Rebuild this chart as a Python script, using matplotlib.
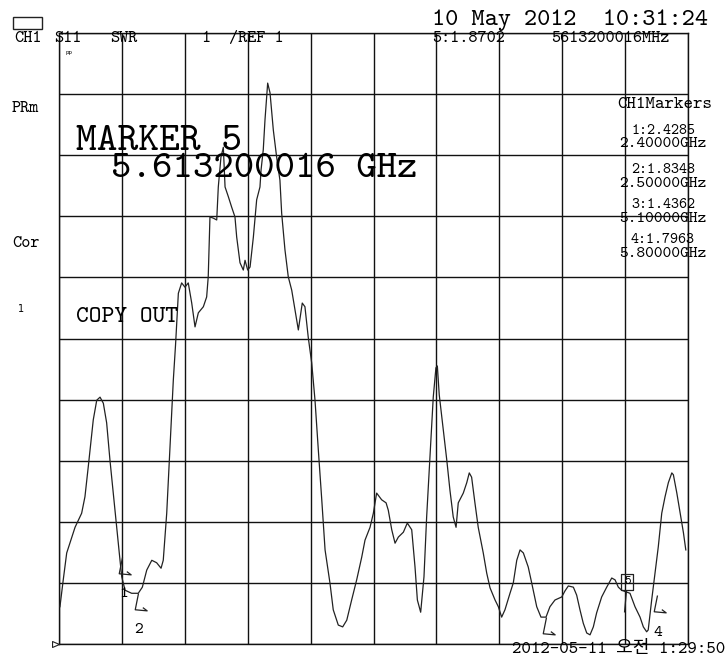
import numpy as np
import matplotlib
matplotlib.use("Agg")
import matplotlib.pyplot as plt
from matplotlib.path import Path
from matplotlib.patches import Rectangle

# ---- S11 SWR sweep, 2-6 GHz ----
freq_ghz = [2.006, 2.027, 2.049, 2.102, 2.144, 2.165, 2.186, 2.218, 2.240, 2.261,
            2.282, 2.303, 2.324, 2.345, 2.367, 2.388, 2.399, 2.420, 2.462, 2.504,
            2.530, 2.558, 2.590, 2.621, 2.649, 2.663, 2.685, 2.706, 2.727, 2.741,
            2.759, 2.780, 2.801, 2.822, 2.844, 2.865, 2.886, 2.918, 2.939, 2.949,
            2.960, 2.981, 3.003, 3.013, 3.030, 3.045, 3.056, 3.077, 3.098, 3.119,
            3.130, 3.151, 3.172, 3.183, 3.200, 3.215, 3.236, 3.257, 3.278, 3.285,
            3.299, 3.310, 3.327, 3.342, 3.363, 3.384, 3.405, 3.416, 3.437, 3.458,
            3.480, 3.501, 3.522, 3.547, 3.564, 3.585, 3.607, 3.628, 3.649, 3.671,
            3.692, 3.723, 3.744, 3.776, 3.804, 3.830, 3.861, 3.893, 3.925, 3.946,
            3.978, 3.999, 4.020, 4.052, 4.080, 4.094, 4.116, 4.137, 4.158, 4.190,
            4.215, 4.243, 4.264, 4.279, 4.300, 4.321, 4.338, 4.359, 4.380, 4.397,
            4.406, 4.418, 4.444, 4.466, 4.486, 4.507, 4.525, 4.539, 4.571, 4.593,
            4.609, 4.624, 4.645, 4.666, 4.698, 4.720, 4.741, 4.773, 4.794, 4.815,
            4.836, 4.868, 4.889, 4.911, 4.932, 4.953, 4.984, 5.006, 5.038, 5.065,
            5.097, 5.122, 5.154, 5.197, 5.218, 5.239, 5.271, 5.292, 5.313, 5.334,
            5.356, 5.377, 5.398, 5.419, 5.451, 5.483, 5.515, 5.536, 5.557, 5.578,
            5.631, 5.663, 5.695, 5.716, 5.737, 5.747, 5.769, 5.790, 5.811, 5.833,
            5.854, 5.875, 5.897, 5.907, 5.929, 5.950, 5.971, 5.986]
swr = [1.61, 2.05, 2.49, 2.91, 3.14, 3.41, 3.90, 4.67, 4.99, 5.04,
       4.94, 4.62, 4.01, 3.47, 2.91, 2.37, 2.10, 1.88, 1.83, 1.83,
       1.93, 2.21, 2.37, 2.33, 2.24, 2.37, 3.14, 4.22, 5.32, 5.89,
       6.74, 6.91, 6.84, 6.91, 6.58, 6.19, 6.42, 6.52, 6.68, 7.01,
       7.99, 7.97, 7.94, 8.48, 8.97, 9.13, 8.48, 8.32, 8.15, 7.99,
       7.66, 7.24, 7.12, 7.28, 7.12, 7.17, 7.66, 8.27, 8.48, 8.76,
       9.09, 9.58, 10.18, 10.02, 9.41, 8.97, 8.59, 8.05, 7.45, 7.01,
       6.79, 6.47, 6.14, 6.58, 6.52, 6.02, 5.60, 4.99, 4.18, 3.36,
       2.54, 2.00, 1.56, 1.31, 1.28, 1.39, 1.72, 2.05, 2.42, 2.70,
       2.91, 3.14, 3.47, 3.36, 3.31, 3.19, 2.87, 2.65, 2.75, 2.83,
       2.98, 2.87, 2.26, 1.72, 1.52, 2.10, 3.08, 4.06, 5.04, 5.52,
       5.55, 5.08, 4.50, 4.01, 3.52, 3.08, 2.91, 3.31, 3.47, 3.64,
       3.80, 3.73, 3.31, 2.91, 2.49, 2.16, 1.92, 1.72, 1.61, 1.44,
       1.56, 1.83, 2.00, 2.37, 2.54, 2.49, 2.26, 2.00, 1.61, 1.44,
       1.44, 1.61, 1.72, 1.77, 1.87, 1.95, 1.93, 1.80, 1.56, 1.34,
       1.18, 1.15, 1.28, 1.51, 1.77, 1.93, 2.08, 2.05, 1.93, 1.88,
       1.83, 1.61, 1.44, 1.28, 1.20, 1.23, 1.72, 2.16, 2.59, 3.14,
       3.41, 3.64, 3.80, 3.77, 3.47, 3.14, 2.82, 2.54]

# ---- markers ----
marker_ids = [1, 2, 3, 4]
marker_freq_ghz = [2.40, 2.50, 5.10, 5.80]
marker_readout = ["2.4285", "1.8348", "1.4362", "1.7963"]
marker_freq_labels = ["2.40000GHz", "2.50000GHz", "5.10000GHz", "5.80000GHz"]
active_marker_id = 5
active_marker_freq_ghz = 5.613200016
active_marker_readout = "1.8702"

# ---- scale settings ----
start_ghz, stop_ghz = 2.0, 6.0
ref_swr, swr_per_div, n_div = 1, 1, 10

W, H = 728, 657
MONO = "cmtt10"
plt.rcParams["axes.unicode_minus"] = False

fig = plt.figure(figsize=(W / 100, H / 100), dpi=100)
fig.patch.set_facecolor("white")


def fp(x, y):
    """pixel position (from top-left) -> figure fraction"""
    return x / W, 1 - y / H


def label(x, y, s, size, **kw):
    kw.setdefault("family", MONO)
    fig.text(*fp(x, y), s, fontsize=size, va="baseline", color="black", **kw)


ax = fig.add_axes([59 / W, 13 / H, 629 / W, 611 / H])
ax.set_xlim(start_ghz, stop_ghz)
ax.set_ylim(ref_swr, ref_swr + n_div * swr_per_div)
ax.set_xticks(np.linspace(start_ghz, stop_ghz, n_div + 1))
ax.set_yticks(np.arange(ref_swr, ref_swr + n_div * swr_per_div + 1, swr_per_div))
ax.tick_params(length=0, labelbottom=False, labelleft=False)
ax.grid(True, color="#111111", lw=1.0)
for sp in ax.spines.values():
    sp.set_color("#111111")
    sp.set_linewidth(1.0)

# measured trace
ax.plot(freq_ghz, swr, color="#222222", lw=0.9, zorder=3)

# marker glyph: small slanted flag hanging from the marked point
flag = Path([(0, 0), (-3, -15), (8, -16), (4, -13)],
            [Path.MOVETO, Path.LINETO, Path.LINETO, Path.LINETO])
marker_vals = [float(v) for v in marker_readout]
for mid, mf, mv in zip(marker_ids, marker_freq_ghz, marker_vals):
    ax.plot([mf], [mv], marker=flag, markersize=25, color="#222222",
            mew=0.9, fillstyle="none", linestyle="none", zorder=4,
            clip_on=False)
    if mid != 3:
        ax.annotate(str(mid), (mf, mv), xytext=(1, -27), textcoords="offset points",
                    ha="center", va="center", fontsize=12, family=MONO,
                    annotation_clip=False)

# active marker: boxed number with a drop line
box = Path([(-6, 1), (6, 1), (6, 17), (-6, 17), (-6, 1), (-1, 1), (-3, -21)],
           [Path.MOVETO, Path.LINETO, Path.LINETO, Path.LINETO, Path.LINETO,
            Path.MOVETO, Path.LINETO])
av = float(active_marker_readout)
ax.plot([active_marker_freq_ghz], [av], marker=box, markersize=30.2,
        color="#222222", mew=0.9, fillstyle="none", linestyle="none", zorder=4)
ax.annotate(str(active_marker_id), (active_marker_freq_ghz, av), xytext=(0, 6.5),
            textcoords="offset points", ha="center", va="center", fontsize=9,
            family=MONO)

# reference level pointer on the left edge
ref_tri = Path([(0, 0), (-7, 3), (-7, -3), (0, 0)],
               [Path.MOVETO, Path.LINETO, Path.LINETO, Path.CLOSEPOLY])
ax.plot([start_ghz], [ref_swr], marker=ref_tri, markersize=10, color="#222222",
        mew=0.8, mfc="white", linestyle="none", clip_on=False, zorder=5)

# ---- annotation text ----
fig.patches.append(Rectangle(fp(12.7, 29.3), 29.3 / W, 12.6 / H,
                             transform=fig.transFigure, fill=False,
                             edgecolor="#222222", lw=1.0))
label(432, 25, "10 May 2012  10:31:24", 18)
label(14, 42, "CH1", 12.5)
label(54, 42, "S11", 12.5)
label(110, 42, "SWR", 12.5)
label(201, 42, str(swr_per_div), 12.5)
label(229, 42, f"/REF {ref_swr}", 12.5)
label(432, 42, f"{active_marker_id}:{active_marker_readout}", 12.5)
label(551, 42, f"{active_marker_freq_ghz * 1e3:.6f}".replace(".", "") + "MHz", 12.5)
fig.text(*fp(66, 54), "pp", fontsize=4, color="black", va="baseline")

label(12, 112, "PRm", 12.5)
label(12, 247, "Cor", 12.5)
fig.text(*fp(18, 312), "1", fontsize=7, color="black", va="baseline")

label(76, 150, f"MARKER {active_marker_id}", 28.5)
label(111, 177, f"{active_marker_freq_ghz:.9f} GHz", 28)
label(76, 322, "COPY OUT", 17.5)

label(617, 108, "CH1Markers", 13)
readout_baselines = [(134, 147), (173, 187), (208, 222), (243, 257)]
for mid, val, fl, (b1, b2) in zip(marker_ids, marker_readout, marker_freq_labels,
                                  readout_baselines):
    label(663, b1, f"{mid}:{val}", 11, ha="center")
    label(663, b2, fl, 12, ha="center")

label(512, 653, "2012-05-11 오전 1:29:50", 13, family=[MONO, "Noto Sans CJK KR"])

fig.savefig("out.png", dpi=100, facecolor="white")
